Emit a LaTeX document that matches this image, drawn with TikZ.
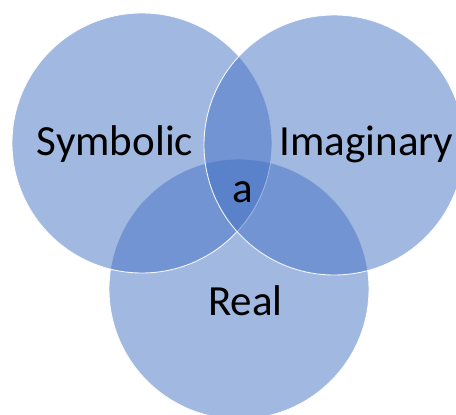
\documentclass[tikz,border=0pt]{standalone}
\usepackage{fontspec}
\setmainfont{Carlito}
\definecolor{vennblue}{RGB}{68,114,196}
\begin{document}
\begin{tikzpicture}[x=1pt,y=-1pt,
  venn/.style={fill=vennblue,fill opacity=0.5,draw=white,draw opacity=0.9,line width=0.9pt},
  lbl/.style={anchor=base,inner sep=0pt,text=black,font=\fontsize{43}{50}\selectfont}]
\useasboundingbox (0,0) rectangle (456,415);
\clip (0,0) rectangle (456,415);
\fill[white] (0,0) rectangle (456,415);
\path[venn] (239,289) circle[radius=130];
\path[venn] (142,143) circle[radius=130];
\path[venn] (334,145) circle[radius=130];
\node[lbl] (sym) at (115,155) {Symbolic};
\node[lbl] (ima) at (366.5,155) {Imaginary};
\node[lbl] (rea) at (245.5,315) {Real};
\node[lbl] (a) at (243,202) {a};
\end{tikzpicture}
\end{document}
